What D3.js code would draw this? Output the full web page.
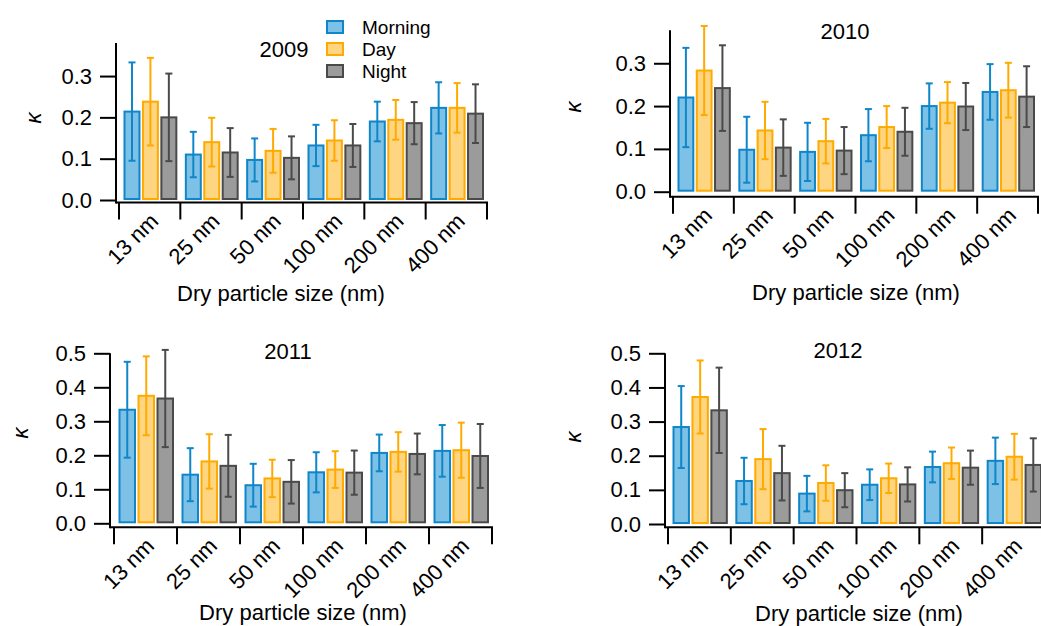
<!DOCTYPE html>
<html>
<head>
<meta charset="utf-8">
<script src="https://cdn.jsdelivr.net/npm/d3@7"></script>
<style>
  body { margin: 0; background: #fff; }
  svg text { font-family: Arial, "Liberation Sans", sans-serif; fill: #000; }
</style>
</head>
<body>
<svg id="chart" width="1041" height="626"></svg>
<script>
// categories + series
const sizes = ['13 nm', '25 nm', '50 nm', '100 nm', '200 nm', '400 nm'];
const series = ['Morning', 'Day', 'Night'];

// kappa means
const morning2009 = [0.214, 0.110, 0.097, 0.132, 0.190, 0.223];
const day2009     = [0.238, 0.140, 0.119, 0.144, 0.194, 0.223];
const night2009   = [0.200, 0.115, 0.102, 0.132, 0.186, 0.209];
const morning2010 = [0.220, 0.098, 0.093, 0.132, 0.200, 0.233];
const day2010     = [0.283, 0.143, 0.118, 0.151, 0.208, 0.237];
const night2010   = [0.242, 0.103, 0.096, 0.140, 0.199, 0.222];
const morning2011 = [0.334, 0.143, 0.112, 0.150, 0.207, 0.213];
const day2011     = [0.375, 0.182, 0.132, 0.158, 0.210, 0.215];
const night2011   = [0.367, 0.169, 0.122, 0.149, 0.204, 0.198];
const morning2012 = [0.284, 0.126, 0.089, 0.115, 0.167, 0.185];
const day2012     = [0.372, 0.190, 0.120, 0.134, 0.178, 0.197];
const night2012   = [0.333, 0.149, 0.099, 0.116, 0.165, 0.173];

// error bar half-widths
const morningErr2009 = [0.119, 0.055, 0.052, 0.050, 0.048, 0.062];
const dayErr2009     = [0.106, 0.059, 0.053, 0.049, 0.048, 0.060];
const nightErr2009   = [0.106, 0.059, 0.052, 0.052, 0.051, 0.071];
const morningErr2010 = [0.116, 0.077, 0.068, 0.061, 0.053, 0.065];
const dayErr2010     = [0.104, 0.067, 0.052, 0.049, 0.048, 0.064];
const nightErr2010   = [0.100, 0.066, 0.055, 0.056, 0.055, 0.071];
const morningErr2011 = [0.141, 0.078, 0.063, 0.059, 0.054, 0.076];
const dayErr2011     = [0.116, 0.080, 0.055, 0.054, 0.058, 0.081];
const nightErr2011   = [0.143, 0.091, 0.064, 0.065, 0.060, 0.094];
const morningErr2012 = [0.120, 0.068, 0.052, 0.045, 0.045, 0.068];
const dayErr2012     = [0.107, 0.088, 0.052, 0.043, 0.046, 0.067];
const nightErr2012   = [0.125, 0.080, 0.050, 0.050, 0.050, 0.078];

const yTicks1 = [0.0, 0.1, 0.2, 0.3];
const yTicks2 = [0.0, 0.1, 0.2, 0.3, 0.4, 0.5];

const fills   = { Morning: '#7dc1e7', Day: '#fed581', Night: '#9b9b9b' };
const strokes = { Morning: '#0e86c9', Day: '#ffaa00', Night: '#4a4a4a' };

// panel layout
const panels = [
  { year: '2009', vals: [morning2009, day2009, night2009], errs: [morningErr2009, dayErr2009, nightErr2009],
    ticks: yTicks1, yMax: 0.38, yAxisX: 116, y0: 200, yTop: 43, axisY: 202.5, x0: 119, x1: 487,
    title: [284, 57], xlab: [281, 301], klab: [33, 118] },
  { year: '2010', vals: [morning2010, day2010, night2010], errs: [morningErr2010, dayErr2010, nightErr2010],
    ticks: yTicks1, yMax: 0.377, yAxisX: 670, y0: 191.7, yTop: 30.3, axisY: 196.7, x0: 673, x1: 1038,
    title: [845, 39], xlab: [856, 300], klab: [573, 107] },
  { year: '2011', vals: [morning2011, day2011, night2011], errs: [morningErr2011, dayErr2011, nightErr2011],
    ticks: yTicks2, yMax: 0.5, yAxisX: 110, y0: 523.3, yTop: 353.3, axisY: 527.3, x0: 114, x1: 492,
    title: [288, 359], xlab: [303, 620], klab: [20, 433] },
  { year: '2012', vals: [morning2012, day2012, night2012], errs: [morningErr2012, dayErr2012, nightErr2012],
    ticks: yTicks2, yMax: 0.5, yAxisX: 665, y0: 524, yTop: 353.3, axisY: 527.3, x0: 668, x1: 1045,
    title: [838, 358], xlab: [859, 621], klab: [573, 437] }
];

const svg = d3.select('#chart');

panels.forEach(function(p) {
  const g = svg.append('g');

  const y = d3.scaleLinear().domain([0, p.yMax]).range([p.y0, p.yTop]);
  const x = d3.scaleBand().domain(sizes).range([p.x0, p.x1]);
  const bw = x.bandwidth();
  const xs = d3.scaleBand().domain(series).range([4.5, bw - 3]).paddingInner(0.08);

  // bars + error bars
  series.forEach(function(s, si) {
    const vals = p.vals[si], errs = p.errs[si];
    const grp = g.append('g');
    grp.selectAll('rect')
      .data(sizes)
      .enter()
      .append('rect')
        .attr('x', function(d) { return x(d) + xs(s) + 1; })
        .attr('y', function(d, i) { return y(vals[i]); })
        .attr('width', xs.bandwidth() - 2)
        .attr('height', function(d, i) { return y(0) - y(vals[i]) - 1; })
        .attr('fill', fills[s])
        .attr('stroke', strokes[s])
        .attr('stroke-width', 2);

    const eb = grp.selectAll('g.err')
      .data(sizes)
      .enter()
      .append('g')
        .attr('class', 'err')
        .attr('stroke', strokes[s])
        .attr('stroke-width', 2);
    const cx = function(d) { return x(d) + xs(s) + xs.bandwidth() / 2; };
    eb.append('line')
      .attr('x1', cx).attr('x2', cx)
      .attr('y1', function(d, i) { return y(vals[i] + errs[i]); })
      .attr('y2', function(d, i) { return y(vals[i] - errs[i]); });
    eb.append('line')
      .attr('x1', function(d) { return cx(d) - 3.5; }).attr('x2', function(d) { return cx(d) + 3.5; })
      .attr('y1', function(d, i) { return y(vals[i] + errs[i]); })
      .attr('y2', function(d, i) { return y(vals[i] + errs[i]); });
    eb.append('line')
      .attr('x1', function(d) { return cx(d) - 3.5; }).attr('x2', function(d) { return cx(d) + 3.5; })
      .attr('y1', function(d, i) { return y(vals[i] - errs[i]); })
      .attr('y2', function(d, i) { return y(vals[i] - errs[i]); });
  });

  // y axis
  const yAxis = d3.axisLeft(y).tickValues(p.ticks).tickSize(16).tickPadding(8)
    .tickFormat(d3.format('.1f'));
  const ya = g.append('g')
    .attr('transform', 'translate(' + p.yAxisX + ',0)')
    .call(yAxis);
  ya.select('.domain').remove();
  ya.selectAll('line').attr('stroke', '#000').attr('stroke-width', 2);
  ya.selectAll('text').style('font-size', '22px');
  g.append('line')
    .attr('x1', p.yAxisX).attr('x2', p.yAxisX)
    .attr('y1', p.yTop).attr('y2', p.axisY + 1)
    .attr('stroke', '#000').attr('stroke-width', 2);

  // x axis: baseline + category separators
  g.append('line')
    .attr('x1', p.yAxisX).attr('x2', p.x1 + 1)
    .attr('y1', p.axisY).attr('y2', p.axisY)
    .attr('stroke', '#000').attr('stroke-width', 2);
  const edges = sizes.map(function(d) { return x(d); }).concat([p.x1]);
  g.selectAll('line.sep')
    .data(edges)
    .enter()
    .append('line')
      .attr('class', 'sep')
      .attr('x1', function(d) { return d; }).attr('x2', function(d) { return d; })
      .attr('y1', p.axisY).attr('y2', p.axisY + 17)
      .attr('stroke', '#000').attr('stroke-width', 2);

  g.selectAll('text.xt')
    .data(sizes)
    .enter()
    .append('text')
      .attr('class', 'xt')
      .attr('text-anchor', 'end')
      .attr('transform', function(d) {
        return 'translate(' + (x(d) + bw / 2 + 10) + ',' + (p.axisY + 20) + ') rotate(-45)';
      })
      .style('font-size', '22px')
      .text(function(d) { return d; });

  // labels
  g.append('text')
    .attr('x', p.xlab[0]).attr('y', p.xlab[1])
    .attr('text-anchor', 'middle')
    .style('font-size', '22px')
    .text('Dry particle size (nm)');
  g.append('text')
    .attr('x', p.title[0]).attr('y', p.title[1])
    .attr('text-anchor', 'middle')
    .style('font-size', '22px')
    .text(p.year);
  g.append('text')
    .attr('transform', 'translate(' + p.klab[0] + ',' + p.klab[1] + ') rotate(-90)')
    .attr('text-anchor', 'middle')
    .attr('dominant-baseline', 'central')
    .style('font-size', '22px')
    .style('font-style', 'italic')
    .text('κ');
});

// legend
const legend = svg.append('g').attr('transform', 'translate(327,21)');
const li = legend.selectAll('g')
  .data(series)
  .enter()
  .append('g')
    .attr('transform', function(d, i) { return 'translate(0,' + i * 22 + ')'; });
li.append('rect')
  .attr('width', 16).attr('height', 12)
  .attr('fill', function(d) { return fills[d]; })
  .attr('stroke', function(d) { return strokes[d]; })
  .attr('stroke-width', 2);
li.append('text')
  .attr('x', 35).attr('y', 13)
  .style('font-size', '19px')
  .text(function(d) { return d; });
</script>
</body>
</html>
